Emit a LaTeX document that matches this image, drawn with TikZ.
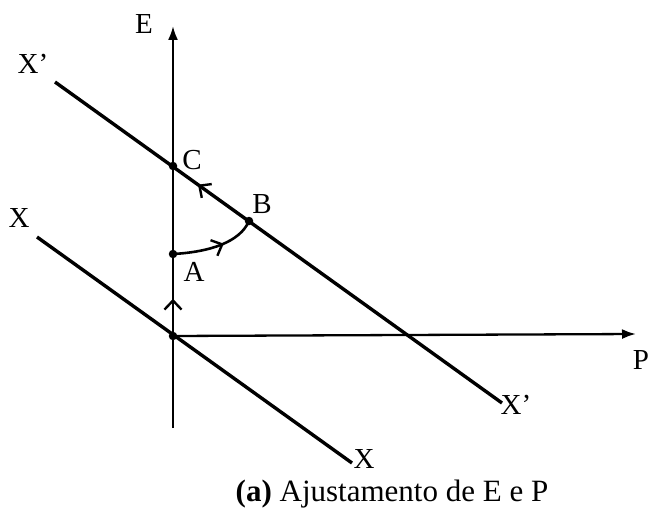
\documentclass[tikz,border=0pt]{standalone}
\usepackage{fontspec}
\setmainfont{Liberation Serif}
\usetikzlibrary{arrows.meta,decorations.markings}
\begin{document}
\begin{tikzpicture}[x=1pt,y=-1pt,
  thick line/.style={line width=3.4pt},
  axisline/.style={line width=2.3pt,-{Latex[length=14pt,width=10pt]}},
  lbl/.style={font=\fontsize{29}{29}\selectfont, inner sep=0pt},
  dot/.style={circle,fill,inner sep=0pt,minimum size=8.5pt},
  midfwd/.style={postaction={decorate},decoration={markings,mark=at position #1 with {\arrow{Straight Barb[length=9pt,width=17pt,line width=2.4pt]}}}},
  midrev/.style={postaction={decorate},decoration={markings,mark=at position #1 with {\arrowreversed{Straight Barb[length=9pt,width=17pt,line width=2.4pt]}}}}
]
\path[use as bounding box] (0,0) rectangle (650,516);
% points
\coordinate (O) at (173,336);
\coordinate (A) at (173,254);
\coordinate (C) at (173,166);
\coordinate (B) at (249,221);
\coordinate (Vbot) at (173,428);
\coordinate (Vtop) at (173,26);
\coordinate (Hend) at (636,334);
\coordinate (X1) at (37,237);
\coordinate (X2) at (352,463);
\coordinate (Xp1) at (55,82);
\coordinate (Xp2) at (502,403);
% axes
\draw[axisline] (O) -- (Hend);
\draw[line width=2.3pt] (Vbot) -- (O);
\draw[axisline,midfwd=0.12] (O) -- (Vtop);
% lines
\draw[thick line] (X1) -- (X2);
\draw[thick line,midrev=0.32] (Xp1) -- (Xp2);
% arc A to B
\draw[line width=2.6pt,midfwd=0.6] (A) .. controls (210,252) and (240,242) .. (B);
% dots
\foreach \p in {O,A,C,B} \node[dot] at (\p) {};
% labels
\node[lbl] (lE) at (144,24) {E};
\node[lbl] (lXp1) at (33,64) {X’};
\node[lbl] (lX1) at (19,218) {X};
\node[lbl] (lC) at (192,160) {C};
\node[lbl] (lB) at (262,204) {B};
\node[lbl] (lA) at (194,272) {A};
\node[lbl] (lP) at (641,360) {P};
\node[lbl] (lXp2) at (516,405) {X’};
\node[lbl] (lX2) at (364,459) {X};
\node[font=\fontsize{31}{31}\selectfont, inner sep=0pt, anchor=base] (cap) at (392,501) {\textbf{(a)} Ajustamento de E e P};
\end{tikzpicture}
\end{document}
